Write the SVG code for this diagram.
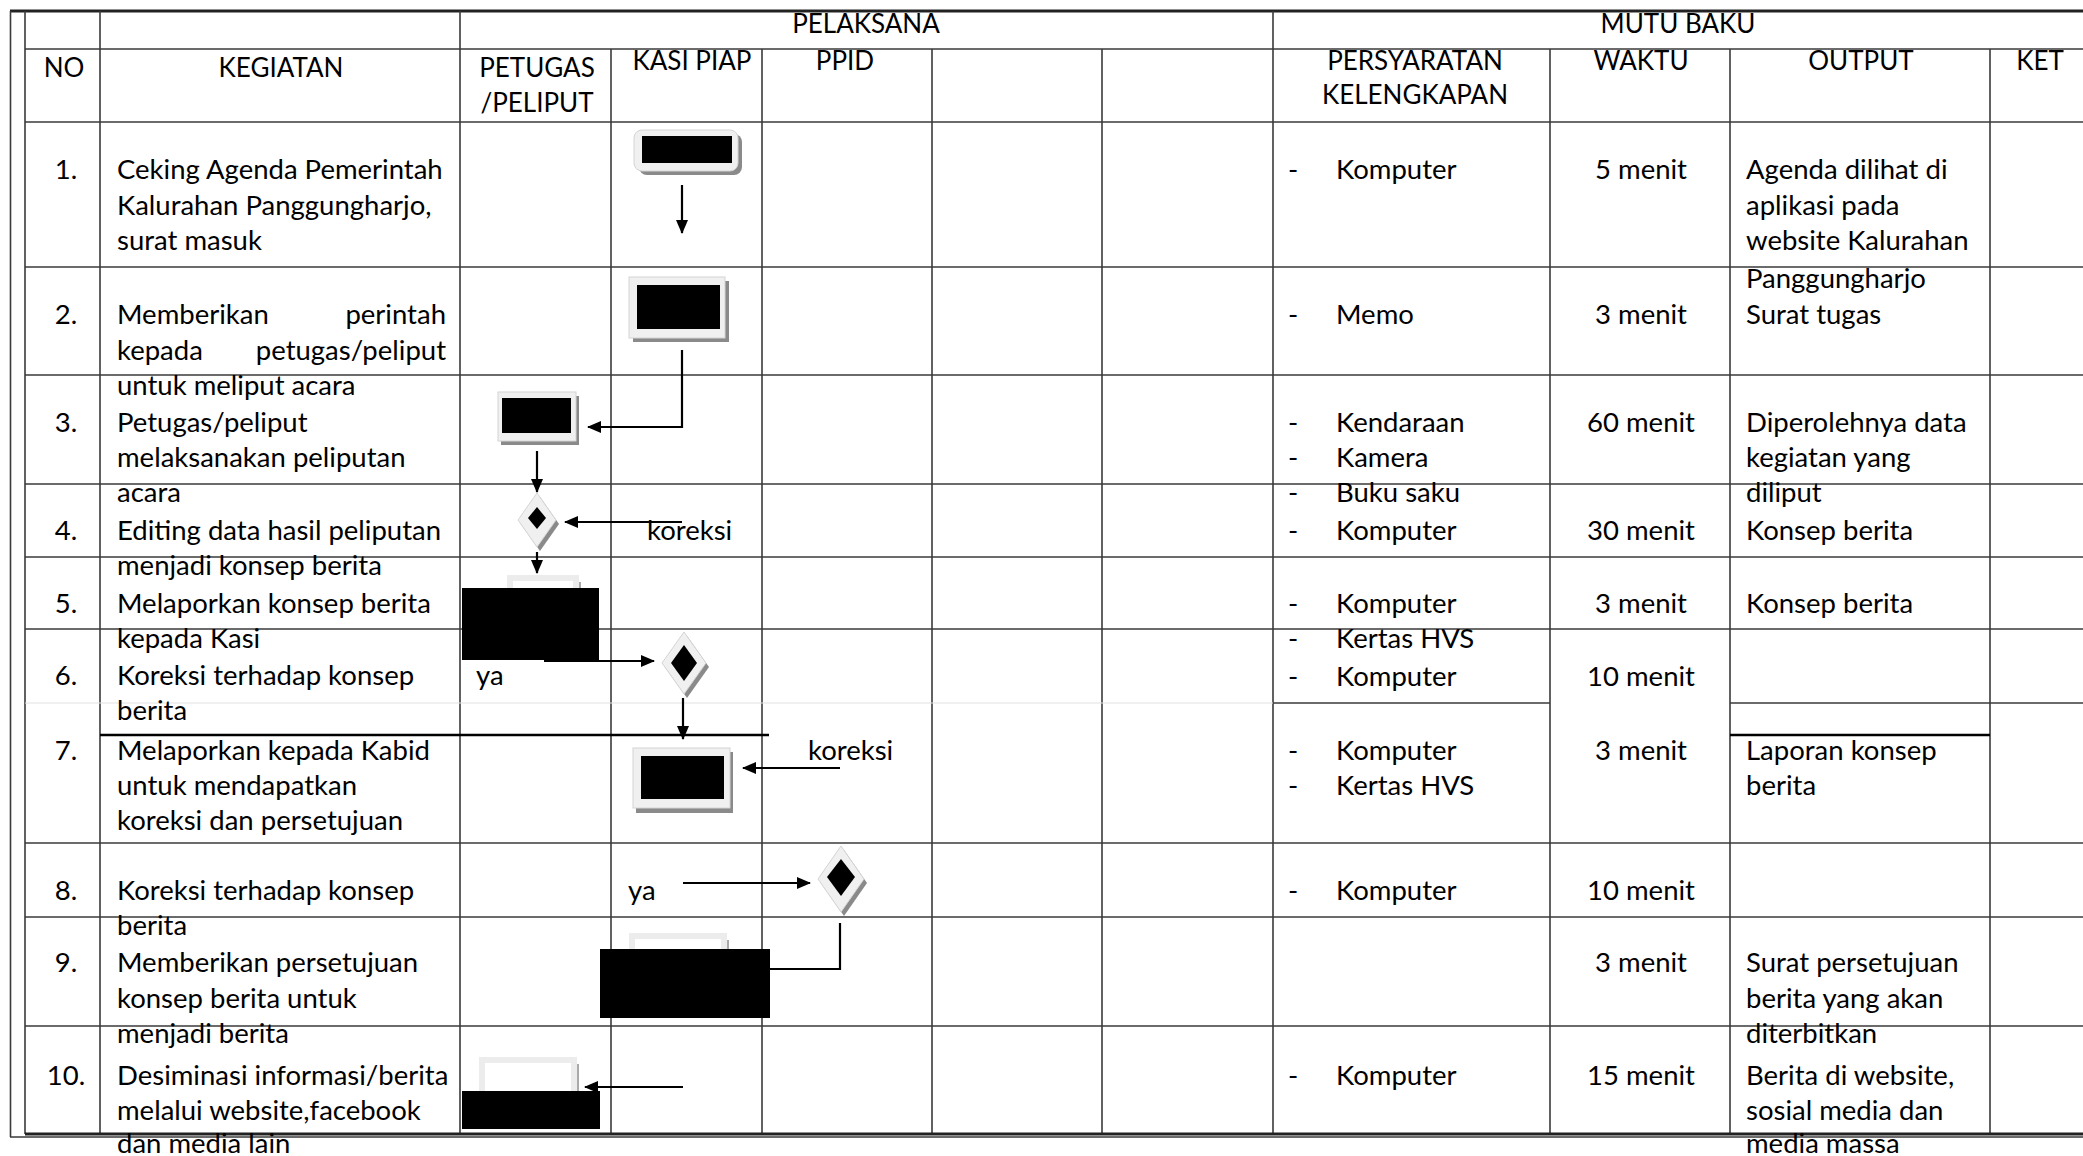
<svg xmlns="http://www.w3.org/2000/svg" width="2083" height="1156" viewBox="0 0 2083 1156">
<defs>
<style>
text{font-family:Lato,"Liberation Sans",sans-serif;font-size:27.5px;fill:#000}
.h{font-size:26px}
.c{text-anchor:middle}
.e{text-anchor:end}
.g{stroke:#3a3a3a;stroke-width:1.6;fill:none}
.t{stroke:#222;stroke-width:3;fill:none}
.f{stroke:#e2e2e2;stroke-width:1.2;fill:none}
.k{stroke:#000;stroke-width:2.6;fill:none}
.cn{stroke:#000;stroke-width:2.2;fill:none}
.sh{fill:#8a8a8a}
.ob{fill:#f0f0f0;stroke:#d4d4d4;stroke-width:1}
.in{fill:#000}
.lb{fill:#fff;stroke:#ececec;stroke-width:6}
.rd{fill:#000}
</style>
<marker id="ah" markerUnits="userSpaceOnUse" markerWidth="14" markerHeight="12" refX="13" refY="6" orient="auto">
<path d="M0,0 L14,6 L0,12 z" fill="#000"/>
</marker>
</defs>
<rect width="2083" height="1156" fill="#fff"/>
<g id="grid">
<line class="t" x1="10" y1="11" x2="2083" y2="11"/>
<line class="g" x1="10.5" y1="11" x2="10.5" y2="1137"/>
<line class="g" x1="10" y1="1137" x2="2083" y2="1137"/>
<line class="g" x1="25" y1="11" x2="25" y2="1134"/>
<line class="g" x1="100" y1="11" x2="100" y2="1134"/>
<line class="g" x1="460" y1="11" x2="460" y2="1134"/>
<line class="g" x1="611" y1="49" x2="611" y2="1134"/>
<line class="g" x1="762" y1="49" x2="762" y2="1134"/>
<line class="g" x1="932" y1="49" x2="932" y2="1134"/>
<line class="g" x1="1102" y1="49" x2="1102" y2="1134"/>
<line class="g" x1="1273" y1="11" x2="1273" y2="1134"/>
<line class="g" x1="1550" y1="49" x2="1550" y2="1134"/>
<line class="g" x1="1730" y1="49" x2="1730" y2="1134"/>
<line class="g" x1="1990" y1="49" x2="1990" y2="1134"/>
<line class="g" x1="25" y1="49" x2="2083" y2="49"/>
<line class="g" x1="25" y1="122" x2="2083" y2="122"/>
<line class="g" x1="25" y1="267" x2="2083" y2="267"/>
<line class="g" x1="25" y1="375" x2="2083" y2="375"/>
<line class="g" x1="25" y1="484" x2="2083" y2="484"/>
<line class="g" x1="25" y1="557" x2="2083" y2="557"/>
<line class="g" x1="25" y1="629" x2="2083" y2="629"/>
<line class="f" x1="25" y1="703" x2="1273" y2="703"/>
<line class="g" x1="1273" y1="703" x2="1550" y2="703"/>
<line class="g" x1="1730" y1="703" x2="2083" y2="703"/>
<line class="k" x1="100" y1="735" x2="769" y2="735"/>
<line class="k" x1="1730" y1="735" x2="1990" y2="735"/>
<line class="g" x1="25" y1="843" x2="2083" y2="843"/>
<line class="g" x1="25" y1="917" x2="2083" y2="917"/>
<line class="g" x1="25" y1="1026" x2="2083" y2="1026"/>
<line class="t" x1="25" y1="1134" x2="2083" y2="1134"/>
</g>
<g id="header">
<text class="c h" x="866" y="33">PELAKSANA</text>
<text class="c h" x="1678" y="33">MUTU BAKU</text>
<text class="c h" x="64" y="77">NO</text>
<text class="c h" x="281" y="77">KEGIATAN</text>
<text class="c h" x="537" y="77">PETUGAS</text>
<text class="c h" x="537" y="112">/PELIPUT</text>
<text class="c h" x="692" y="70">KASI PIAP</text>
<text class="c h" x="845" y="70">PPID</text>
<text class="c h" x="1415" y="70">PERSYARATAN</text>
<text class="c h" x="1415" y="104">KELENGKAPAN</text>
<text class="c h" x="1641" y="70">WAKTU</text>
<text class="c h" x="1861" y="70">OUTPUT</text>
<text class="c h" x="2040" y="70">KET</text>
</g>
<g id="nomor">
<text class="c" x="66" y="179">1.</text>
<text class="c" x="66" y="324">2.</text>
<text class="c" x="66" y="432">3.</text>
<text class="c" x="66" y="540">4.</text>
<text class="c" x="66" y="613">5.</text>
<text class="c" x="66" y="685">6.</text>
<text class="c" x="66" y="760">7.</text>
<text class="c" x="66" y="900">8.</text>
<text class="c" x="66" y="972">9.</text>
<text class="c" x="66" y="1085">10.</text>
</g>
<g id="kegiatan">
<text x="117" y="179">Ceking Agenda Pemerintah</text>
<text x="117" y="214.5">Kalurahan Panggungharjo,</text>
<text x="117" y="250">surat masuk</text>
<text x="117" y="324">Memberikan</text>
<text class="e" x="446" y="324">perintah</text>
<text x="117" y="360">kepada</text>
<text class="e" x="446" y="360">petugas/peliput</text>
<text x="117" y="395">untuk meliput acara</text>
<text x="117" y="432">Petugas/peliput</text>
<text x="117" y="467">melaksanakan peliputan</text>
<text x="117" y="502">acara</text>
<text x="117" y="540">Editing data hasil peliputan</text>
<text x="117" y="575">menjadi konsep berita</text>
<text x="117" y="613">Melaporkan konsep berita</text>
<text x="117" y="648">kepada Kasi</text>
<text x="117" y="685">Koreksi terhadap konsep</text>
<text x="117" y="720">berita</text>
<text x="117" y="760">Melaporkan kepada Kabid</text>
<text x="117" y="795">untuk mendapatkan</text>
<text x="117" y="830">koreksi dan persetujuan</text>
<text x="117" y="900">Koreksi terhadap konsep</text>
<text x="117" y="935">berita</text>
<text x="117" y="972">Memberikan persetujuan</text>
<text x="117" y="1007.5">konsep berita untuk</text>
<text x="117" y="1043">menjadi berita</text>
<text x="117" y="1085">Desiminasi informasi/berita</text>
<text x="117" y="1120">melalui website,facebook</text>
<text x="117" y="1153">dan media lain</text>
</g>
<g id="persyaratan">
<text x="1288" y="179">-</text><text x="1336" y="179">Komputer</text>
<text x="1288" y="324">-</text><text x="1336" y="324">Memo</text>
<text x="1288" y="432">-</text><text x="1336" y="432">Kendaraan</text>
<text x="1288" y="467">-</text><text x="1336" y="467">Kamera</text>
<text x="1288" y="502">-</text><text x="1336" y="502">Buku saku</text>
<text x="1288" y="540">-</text><text x="1336" y="540">Komputer</text>
<text x="1288" y="613">-</text><text x="1336" y="613">Komputer</text>
<text x="1288" y="648">-</text><text x="1336" y="648">Kertas HVS</text>
<text x="1288" y="686">-</text><text x="1336" y="686">Komputer</text>
<text x="1288" y="760">-</text><text x="1336" y="760">Komputer</text>
<text x="1288" y="795">-</text><text x="1336" y="795">Kertas HVS</text>
<text x="1288" y="900">-</text><text x="1336" y="900">Komputer</text>
<text x="1288" y="1085">-</text><text x="1336" y="1085">Komputer</text>
</g>
<g id="waktu">
<text class="c" x="1641" y="179">5 menit</text>
<text class="c" x="1641" y="324">3 menit</text>
<text class="c" x="1641" y="432">60 menit</text>
<text class="c" x="1641" y="540">30 menit</text>
<text class="c" x="1641" y="613">3 menit</text>
<text class="c" x="1641" y="686">10 menit</text>
<text class="c" x="1641" y="760">3 menit</text>
<text class="c" x="1641" y="900">10 menit</text>
<text class="c" x="1641" y="972">3 menit</text>
<text class="c" x="1641" y="1085">15 menit</text>
</g>
<g id="output">
<text x="1746" y="179">Agenda dilihat di</text>
<text x="1746" y="214.5">aplikasi pada</text>
<text x="1746" y="250">website Kalurahan</text>
<text x="1746" y="288">Panggungharjo</text>
<text x="1746" y="324">Surat tugas</text>
<text x="1746" y="432">Diperolehnya data</text>
<text x="1746" y="467">kegiatan yang</text>
<text x="1746" y="502">diliput</text>
<text x="1746" y="540">Konsep berita</text>
<text x="1746" y="613">Konsep berita</text>
<text x="1746" y="760">Laporan konsep</text>
<text x="1746" y="795">berita</text>
<text x="1746" y="972">Surat persetujuan</text>
<text x="1746" y="1008">berita yang akan</text>
<text x="1746" y="1043">diterbitkan</text>
<text x="1746" y="1085">Berita di website,</text>
<text x="1746" y="1120">sosial media dan</text>
<text x="1746" y="1153">media massa</text>
</g>
<g id="labels">
<text x="647" y="540">koreksi</text>
<text x="476" y="685">ya</text>
<text x="808" y="760">koreksi</text>
<text x="628" y="900">ya</text>
</g>
<g id="connectors">
<path class="cn" d="M682,185 L682,233" marker-end="url(#ah)"/>
<path class="cn" d="M682,350 L682,427 L588,427" marker-end="url(#ah)"/>
<path class="cn" d="M537,451 L537,492" marker-end="url(#ah)"/>
<path class="cn" d="M682,522 L565,522" marker-end="url(#ah)"/>
<path class="cn" d="M537,552 L537,573" marker-end="url(#ah)"/>
<path class="cn" d="M544,661 L654,661" marker-end="url(#ah)"/>
<path class="cn" d="M683,698 L683,739" marker-end="url(#ah)"/>
<path class="cn" d="M840,768 L743,768" marker-end="url(#ah)"/>
<path class="cn" d="M683,883 L810,883" marker-end="url(#ah)"/>
<path class="cn" d="M840,923 L840,969 L760,969"/>
<path class="cn" d="M683,1087 L585,1087" marker-end="url(#ah)"/>
</g>
<g id="node-1">
<rect class="sh" x="639" y="134" width="103" height="41" rx="8"/>
<rect class="ob" x="634" y="130" width="104" height="41" rx="8"/>
<rect class="in" x="642" y="136" width="90" height="27"/>
</g>
<g id="node-2">
<rect class="sh" x="633" y="281" width="96" height="61"/>
<rect class="ob" x="629" y="277" width="96" height="61"/>
<rect class="in" x="637" y="285" width="83" height="44"/>
</g>
<g id="node-3">
<rect class="sh" x="501" y="396" width="78" height="49"/>
<rect class="ob" x="498" y="392" width="78" height="49"/>
<rect class="in" x="502" y="398" width="69" height="35"/>
</g>
<g id="node-4">
<polygon class="sh" points="540,497 559,524 540,551 521,524"/>
<polygon class="ob" points="537,493 556,520 537,547 518,520"/>
<polygon class="in" points="537,507 546,518 537,529 528,518"/>
</g>
<g id="node-5">
<rect class="lb" x="510" y="578" width="66" height="60"/>
<line x1="580" y1="582" x2="580" y2="630" stroke="#aaa" stroke-width="2"/>
<rect class="rd" x="462" y="588" width="137" height="72"/>
</g>
<g id="node-6">
<polygon class="sh" points="687,636 709,667 687,698 665,667"/>
<polygon class="ob" points="684,632 706,663 684,694 662,663"/>
<polygon class="in" points="684,645 697,663 684,681 671,663"/>
</g>
<g id="node-7">
<rect class="sh" x="636" y="752" width="97" height="61"/>
<rect class="ob" x="633" y="748" width="97" height="60"/>
<rect class="in" x="641" y="756" width="83" height="43"/>
</g>
<g id="node-8">
<polygon class="sh" points="844,850 867,883 844,916 821,883"/>
<polygon class="ob" points="841,846 864,879 841,912 818,879"/>
<polygon class="in" points="841,859 855,877 841,896 827,877"/>
</g>
<g id="node-9">
<rect class="lb" x="632" y="936" width="92" height="60"/>
<line x1="728" y1="940" x2="728" y2="990" stroke="#aaa" stroke-width="2"/>
<rect class="rd" x="600" y="949" width="170" height="69"/>
</g>
<g id="node-10">
<rect class="lb" x="482" y="1060" width="92" height="60"/>
<line x1="578" y1="1064" x2="578" y2="1110" stroke="#aaa" stroke-width="2"/>
<rect class="rd" x="462" y="1091" width="138" height="38"/>
</g>
</svg>
